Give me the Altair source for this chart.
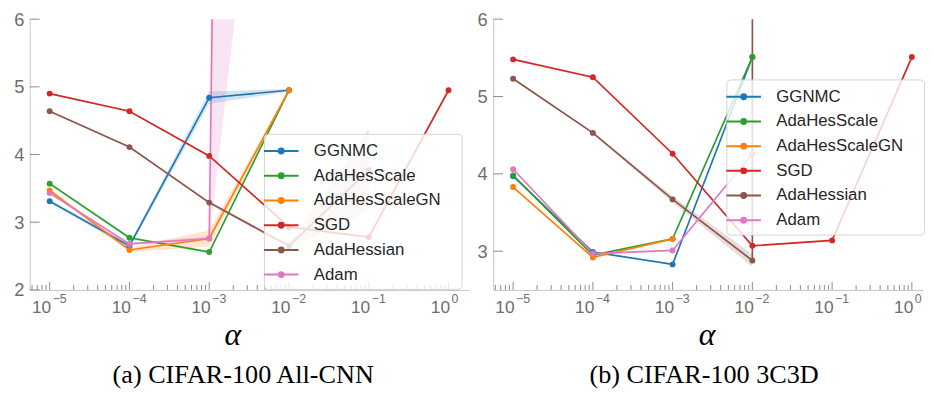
import altair as alt
import pandas as pd

alphas = [1e-5, 1e-4, 1e-3, 1e-2, 1e-1, 1e0]
optimizers = ["GGNMC", "AdaHesScale", "AdaHesScaleGN", "SGD", "AdaHessian", "Adam"]
colors = ["#1f77b4", "#2ca02c", "#ff7f0e", "#d62728", "#8c564b", "#e377c2"]

# (a) CIFAR-100 All-CNN : mean values
a_ggnmc = [3.31, 2.65, 4.84, 4.95, None, None]
a_ahs = [3.57, 2.77, 2.56, 4.95, None, None]
a_ahsgn = [3.47, 2.59, 2.76, 4.95, None, None]
a_sgd = [4.90, 4.64, 3.98, 2.93, 2.78, 4.95]
a_ahes = [4.64, 4.11, 3.29, 2.65, 3.77, None]
a_adam = [3.43, 2.68, 2.76, 90.0, None, None]
# (a) spread
a_ggnmc_sd = [0.02, 0.04, 0.09, 0.02, None, None]
a_ahs_sd = [0.02, 0.02, 0.02, 0.01, None, None]
a_ahsgn_sd = [0.02, 0.03, 0.12, 0.01, None, None]
a_sgd_sd = [0.01, 0.01, 0.01, 0.01, 0.01, 0.01]
a_ahes_sd = [0.01, 0.01, 0.02, 0.03, 0.60, None]
a_adam_sd = [0.02, 0.02, 0.03, 77.0, None, None]

# (b) CIFAR-100 3C3D : mean values
b_ggnmc = [3.97, 2.99, 2.83, 5.51, None, None]
b_ahs = [3.98, 2.95, 3.16, 5.51, None, None]
b_ahsgn = [3.83, 2.92, 3.16, None, None, None]
b_sgd = [5.48, 5.25, 4.26, 3.07, 3.14, 5.51]
b_ahes = [5.23, 4.53, 3.67, 2.88, 10000.0, None]
b_adam = [4.06, 2.97, 3.01, 4.26, None, None]
# (b) spread
b_ggnmc_sd = [0.01, 0.01, 0.01, 0.01, None, None]
b_ahs_sd = [0.01, 0.01, 0.01, 0.01, None, None]
b_ahsgn_sd = [0.01, 0.01, 0.01, None, None, None]
b_sgd_sd = [0.01, 0.01, 0.01, 0.01, 0.01, 0.01]
b_ahes_sd = [0.01, 0.01, 0.04, 0.08, None, None]
b_adam_sd = [0.01, 0.01, 0.01, 0.01, None, None]

tick_exponents = [-5, -4, -3, -2, -1, 0]
minor_mults = [2, 3, 4, 5, 6, 7, 8, 9]

LEFT_YTICKS = [2, 3, 4, 5, 6]
RIGHT_YTICKS = [3, 4, 5, 6]

H = 274
GRAY = "#6e6e6e"
TICK = "#8c8c8c"
DOMAIN = "#c4c4c4"
SANS = "Liberation Sans"
SERIF = "Liberation Serif"

LEGEND_PATH = ("M-1.75,0L1.75,0"
               "M-0.25,0A0.25,0.25,0,1,0,0.25,0A0.25,0.25,0,1,0,-0.25,0"
               "M-0.15,0A0.15,0.15,0,1,0,0.15,0A0.15,0.15,0,1,0,-0.15,0"
               "M-0.05,0A0.05,0.05,0,1,0,0.05,0A0.05,0.05,0,1,0,-0.05,0")


def build_df(means, sds):
    rows = []
    for name, m, s in zip(optimizers, means, sds):
        for a, v, d in zip(alphas, m, s):
            if v is None:
                continue
            rows.append({"alpha": a, "opt": name, "value": v,
                         "lo": None if d is None else v - d,
                         "hi": None if d is None else v + d})
    return pd.DataFrame(rows)


major = [10.0 ** e for e in range(-6, 1)]
minor = [m * 10.0 ** e for e in range(-6, 0) for m in minor_mults]


def panel(df, ydomain, yticks, legend_xy, caption, title_x, cap_dx, xmax_exp, width):
    xs = alt.Scale(type="log", domain=[10 ** -5.25, 10 ** xmax_exp], nice=False)
    ys = alt.Scale(domain=ydomain, nice=False, zero=False)
    xaxis = alt.Axis(labels=False, ticks=False, grid=False, domainColor=DOMAIN,
                     domainWidth=1, title="α", titleFont=SERIF,
                     titleFontStyle="italic", titleFontSize=32,
                     titleFontWeight="normal", titleColor="black",
                     titleX=title_x, titleY=55, titleBaseline="alphabetic",
                     titleAlign="center")
    yaxis = alt.Axis(values=yticks, format="d", ticks=False, grid=False,
                     domainColor=DOMAIN, domainWidth=1, labelFont=SANS,
                     labelFontSize=18.5, labelColor=GRAY, labelPadding=6,
                     title=None)
    cscale = alt.Scale(domain=optimizers, range=colors)
    # separate (reversed-order) scale for fills so it never merges with the colour legend
    fscale = alt.Scale(domain=optimizers[::-1], range=colors[::-1])

    def X(field):
        return alt.X(field, type="quantitative", scale=xs, axis=xaxis)

    def Y(field):
        return alt.Y(field, type="quantitative", scale=ys, axis=yaxis)

    base = alt.Chart(df)
    band = base.transform_filter("isValid(datum.lo)").mark_area(
        opacity=0.2, clip=True).encode(
        x=X("alpha"), y=Y("lo"), y2="hi",
        fill=alt.Fill("opt:N", scale=fscale, legend=None),
    )
    line = base.mark_line(strokeWidth=1.7, clip=True).encode(
        x=X("alpha"), y=Y("value"),
        color=alt.Color("opt:N", scale=cscale, sort=optimizers,
                        legend=alt.Legend(
                            title=None, orient="none",
                            legendX=legend_xy[0], legendY=legend_xy[1],
                            symbolType=LEGEND_PATH, symbolSize=400,
                            symbolStrokeWidth=2, labelFont=SANS,
                            labelFontSize=17, labelColor="#262626",
                            labelOffset=22, padding=6.5, rowPadding=6,
                            labelExpr="datum.label + '\u00a0\u00a0\u00a0\u200b'",
                            fillColor="rgba(255,255,255,0.8)",
                            strokeColor="#d4d4d4", cornerRadius=4,
                            zindex=1)),
        order=alt.Order("alpha:Q"),
    )
    pts = base.mark_point(filled=True, size=36, opacity=1, clip=True).encode(
        x=X("alpha"), y=Y("value"),
        fill=alt.Fill("opt:N", scale=fscale, legend=None),
    )
    major_df = pd.DataFrame({"t": major})
    minor_df = pd.DataFrame({"t": minor})
    maj = alt.Chart(major_df).mark_rule(color=TICK, strokeWidth=1, clip=True).encode(
        x=X("t"), y=alt.value(H), y2=alt.value(H - 8))
    mino = alt.Chart(minor_df).mark_rule(color=TICK, strokeWidth=1, clip=True).encode(
        x=X("t"), y=alt.value(H), y2=alt.value(H - 5))
    ytk = alt.Chart(pd.DataFrame({"v": yticks})).mark_rule(
        color=TICK, strokeWidth=1).encode(
        y=Y("v"), x=alt.value(0), x2=alt.value(10))
    lab_df = pd.DataFrame({"t": [10.0 ** e for e in tick_exponents],
                           "exp": [("\u2212" + str(-e)) if e < 0 else str(e)
                                   for e in tick_exponents]})
    base10 = alt.Chart(lab_df).mark_text(
        font=SANS, fontSize=17.5, color=GRAY, align="right",
        baseline="alphabetic", dx=1.5).encode(
        x=X("t"), y=alt.value(H + 23), text=alt.value("10"))
    expo = alt.Chart(lab_df).mark_text(
        font=SANS, fontSize=12.5, color=GRAY, align="left",
        baseline="alphabetic", dx=3).encode(
        x=X("t"), y=alt.value(H + 13), text="exp:N")
    return alt.layer(band, line, pts, maj, mino, ytk, base10, expo).properties(
        width=width, height=H,
        title=alt.TitleParams(caption, orient="bottom", font=SERIF,
                              fontSize=26.5, fontWeight="normal", color="black",
                              anchor="middle", dx=cap_dx, offset=12),
    )


left = panel(build_df([a_ggnmc, a_ahs, a_ahsgn, a_sgd, a_ahes, a_adam],
                      [a_ggnmc_sd, a_ahs_sd, a_ahsgn_sd, a_sgd_sd, a_ahes_sd, a_adam_sd]),
             [2, 6], LEFT_YTICKS, (237, 116), "(a) CIFAR-100 All-CNN", 205, -6,
             0.25, 444)
right = panel(build_df([b_ggnmc, b_ahs, b_ahsgn, b_sgd, b_ahes, b_adam],
                       [b_ggnmc_sd, b_ahs_sd, b_ahsgn_sd, b_sgd_sd, b_ahes_sd, b_adam_sd]),
              [2.5, 6], RIGHT_YTICKS, (236, 61), "(b) CIFAR-100 3C3D", 216, -4,
              0.14, 435)

chart = alt.hconcat(left, right, spacing=8).resolve_scale(
    color="independent", fill="independent", x="independent", y="independent"
).resolve_legend(color="independent").properties(
    padding={"left": 5, "top": 0, "right": 0, "bottom": 0}
).configure_view(stroke=None)

chart.save("out.html", embed_options={"renderer": "svg", "actions": False})
